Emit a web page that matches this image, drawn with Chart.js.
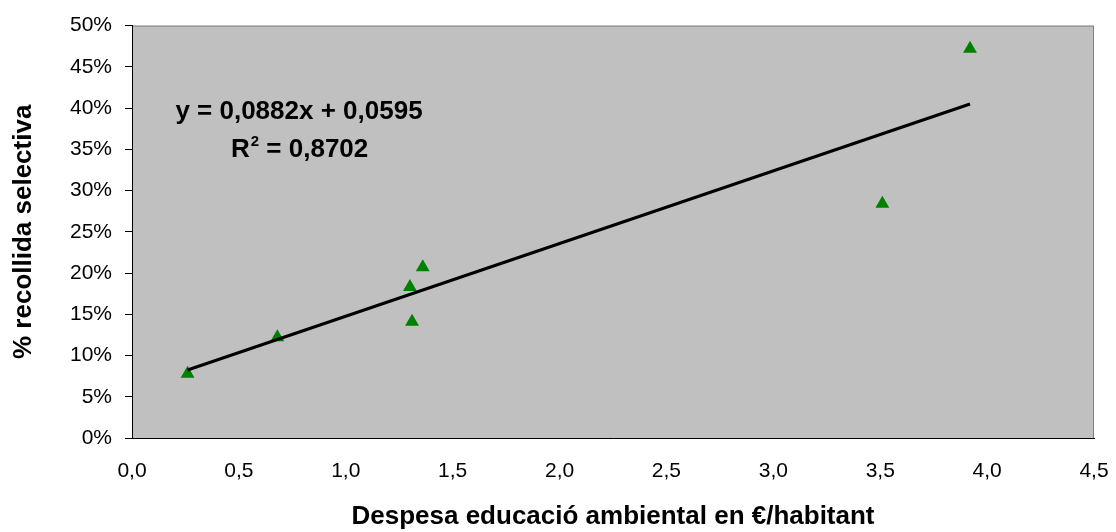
<!DOCTYPE html>
<html>
<head>
<meta charset="utf-8">
<script src="https://cdn.jsdelivr.net/npm/chart.js@4"></script>
<style>
  html, body { margin: 0; padding: 0; background: #fff; }
  #wrap { width: 1116px; height: 532px; }
</style>
</head>
<body>
<div id="wrap"><canvas id="chart" width="1116" height="532"></canvas></div>
<script>
// despesa (€/habitant) vs % recollida selectiva
const despesa = [0.26, 0.68, 1.30, 1.31, 1.36, 3.51, 3.92];
const recollida = [0.078, 0.122, 0.183, 0.141, 0.207, 0.284, 0.472];

// recta de tendència tal com surt al gràfic
const trendX = [0.26, 3.92];
const trendY = [0.0824, 0.405];

const eqText = 'y = 0,0882x + 0,0595';
const r2Text = '0,8702';

const xTitle = 'Despesa educació ambiental en €/habitant';
const yTitle = '% recollida selectiva';

const FONT = '"Liberation Sans", Arial, sans-serif';

const toPoints = (xs, ys) => xs.map((x, i) => ({ x: x, y: ys[i] }));

const plotArea = {
    id: 'plotArea',
    beforeDraw(chart) {
        const { ctx, chartArea: a } = chart;
        ctx.save();
        ctx.fillStyle = '#c0c0c0';
        ctx.fillRect(a.left, a.top, a.right - a.left, a.bottom - a.top);
        ctx.strokeStyle = '#808080';
        ctx.lineWidth = 1;
        ctx.strokeRect(a.left + 0.5, a.top + 0.5, a.right - a.left - 1, a.bottom - a.top);
        ctx.restore();
    },
    afterDatasetsDraw(chart) {
        const { ctx, chartArea: a } = chart;
        ctx.save();
        ctx.fillStyle = '#000';
        ctx.textBaseline = 'alphabetic';
        ctx.font = 'bold 26px ' + FONT;
        ctx.textAlign = 'center';
        ctx.fillText(eqText, a.left + 167, 119);
        // R² amb superíndex
        ctx.textAlign = 'left';
        let x = a.left + 99;
        ctx.fillText('R', x, 157);
        x += ctx.measureText('R').width + 1;
        ctx.font = 'bold 15px ' + FONT;
        ctx.fillText('2', x, 146);
        x += ctx.measureText('2').width;
        ctx.font = 'bold 26px ' + FONT;
        ctx.fillText(' = ' + r2Text, x, 157);
        ctx.restore();
    }
};

new Chart(document.getElementById('chart'), {
    type: 'scatter',
    data: {
        datasets: [
            {
                label: 'tendència',
                type: 'line',
                data: toPoints(trendX, trendY),
                borderColor: '#000',
                borderWidth: 3,
                pointRadius: 0,
                fill: false,
                order: 0
            },
            {
                label: 'municipis',
                data: toPoints(despesa, recollida),
                pointStyle: 'triangle',
                pointRadius: 8,
                pointHoverRadius: 8,
                backgroundColor: '#008000',
                borderColor: '#008000',
                borderWidth: 0,
                order: 1
            }
        ]
    },
    plugins: [plotArea],
    options: {
        responsive: false,
        animation: false,
        layout: { padding: { top: 22, right: 22, left: 0, bottom: 0 } },
        plugins: { legend: { display: false }, tooltip: { enabled: false } },
        scales: {
            x: {
                type: 'linear',
                min: 0, max: 4.5,
                afterFit: s => { s.height = 94; s.paddingRight = 0; s.paddingLeft = 0; },
                border: { display: true, color: '#000', width: 1 },
                grid: { display: false, drawTicks: false },
                ticks: {
                    stepSize: 0.5,
                    padding: 21,
                    color: '#000',
                    font: { family: FONT, size: 21 },
                    maxRotation: 0,
                    callback: v => v.toFixed(1).replace('.', ',')
                },
                title: {
                    display: true,
                    text: xTitle,
                    color: '#000',
                    font: { family: FONT, size: 26, weight: 'bold' },
                    padding: { top: 0, bottom: 0 }
                }
            },
            y: {
                type: 'linear',
                min: 0, max: 0.5,
                afterFit: s => { s.width = 132; },
                border: { display: true, color: '#000', width: 1 },
                grid: { drawOnChartArea: false, tickLength: 7, tickColor: '#000' },
                ticks: {
                    stepSize: 0.05,
                    padding: 13,
                    color: '#000',
                    font: { family: FONT, size: 21 },
                    callback: v => Math.round(v * 100) + '%'
                },
                title: {
                    display: true,
                    text: yTitle,
                    color: '#000',
                    font: { family: FONT, size: 26, weight: 'bold' },
                    padding: { top: 8, bottom: 0 }
                }
            }
        }
    }
});
</script>
</body>
</html>
